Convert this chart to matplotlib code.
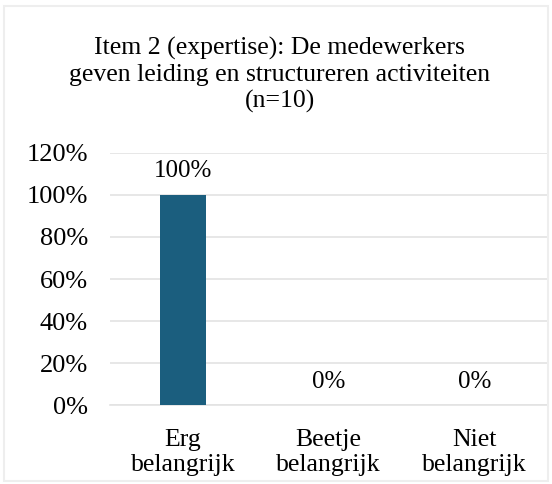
import numpy as np
import matplotlib.pyplot as plt
from matplotlib.patches import Rectangle

categories = ['Erg\nbelangrijk', 'Beetje\nbelangrijk', 'Niet\nbelangrijk']
values = [100, 0, 0]
yticks = [0, 20, 40, 60, 80, 100, 120]
title = 'Item 2 (expertise): De medewerkers\ngeven leiding en structureren activiteiten\n(n=10)'

plt.rcParams['font.family'] = ['Liberation Serif', 'DejaVu Serif']

fig = plt.figure(figsize=(5.52, 4.84), dpi=100)
ax = fig.add_axes([0.1993, 0.1632, 0.7917, 0.5207])

x = np.arange(len(categories))
ax.bar(x, values, width=0.316, color='#1b5e7e', zorder=3)

for xi, v in zip(x, values):
    ax.annotate('%d%%' % v, (xi, v), xytext=(0, 9), textcoords='offset points',
                ha='center', va='bottom', fontsize=18)

ax.set_xlim(-0.5, 2.5)
ax.set_ylim(0, 120)
ax.set_yticks(yticks)
ax.set_yticklabels(['%d%%' % t for t in yticks], fontsize=19)
ax.set_xticks(x)
ax.set_xticklabels(categories, fontsize=18.5, linespacing=1.2)
ax.tick_params(length=0, axis='y', pad=16)
ax.tick_params(length=0, axis='x', pad=17)
ax.grid(axis='y', color='#e3e3e3', linewidth=1.2, zorder=0)
for s in ['top', 'right', 'left']:
    ax.spines[s].set_visible(False)
ax.spines['bottom'].set_color('#e3e3e3')
ax.spines['bottom'].set_linewidth(1.2)

fig.text(0.507, 0.845, title, ha='center', va='center', fontsize=18.5, linespacing=1.22)

fig.patches.append(Rectangle((0.008, 0.006), 0.984, 0.982, transform=fig.transFigure,
                             fill=False, edgecolor='#eeeeee', linewidth=1.5))

plt.savefig('out.png', dpi=100)
